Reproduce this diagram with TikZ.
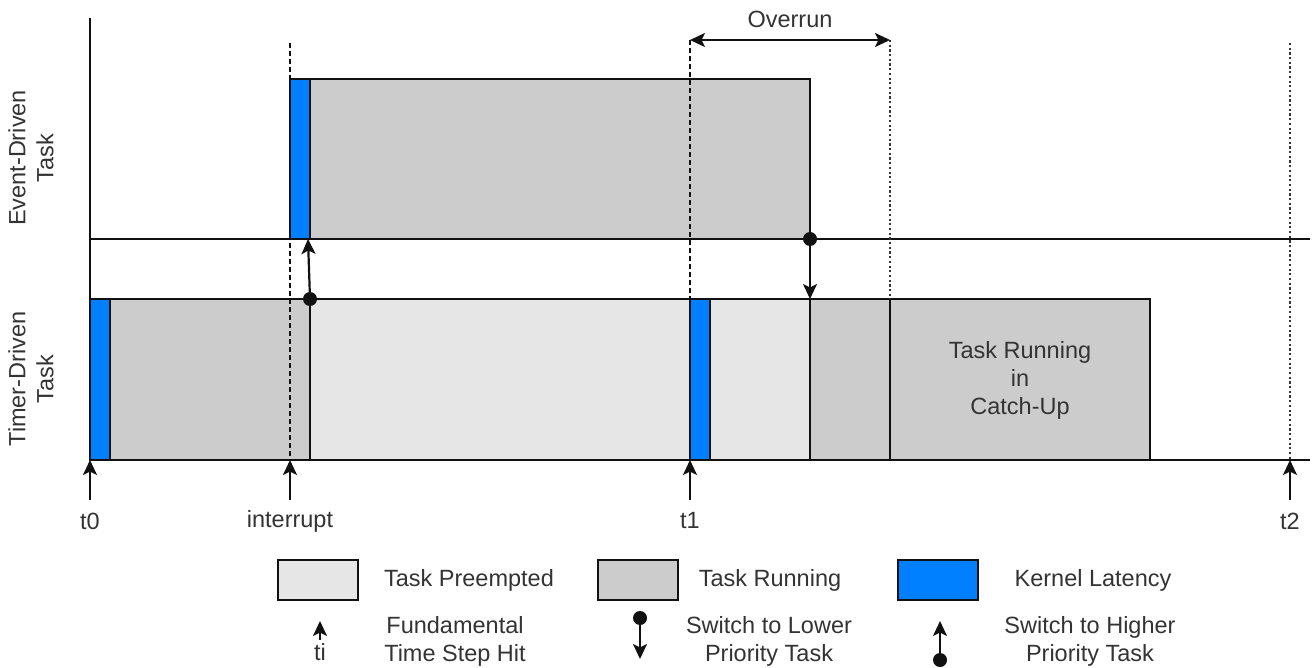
\documentclass[tikz,border=0pt]{standalone}
\usepackage{fontspec}
\setmainfont{Liberation Sans}
\usetikzlibrary{arrows.meta}
\definecolor{klblue}{HTML}{007FFF}
\definecolor{rungray}{HTML}{CCCCCC}
\definecolor{pregray}{HTML}{E6E6E6}
\definecolor{ink}{HTML}{111111}
\definecolor{txt}{HTML}{333333}
\tikzset{
  bx/.style={draw=ink, line width=2.2pt, inner sep=0pt, outer sep=0pt, rectangle},
  kl/.style={bx, fill=klblue},
  run/.style={bx, fill=rungray},
  pre/.style={bx, fill=pregray},
  lbl/.style={text=txt, align=center, inner sep=0pt, font=\fontsize{23.5}{28}\selectfont},
  ln/.style={draw=ink, line width=2.2pt},
  arr/.style={Stealth[length=15pt,width=14pt,inset=3.5pt]},
  tip/.style={ln, -{Stealth[length=15pt,width=14pt,inset=3.5pt]}},
  dtip/.style={ln, {Stealth[length=15pt,width=14pt,inset=3.5pt]}-{Stealth[length=15pt,width=14pt,inset=3.5pt]}},
  dashv/.style={draw=ink, line width=2pt, dash pattern=on 5pt off 3pt},
  dotv/.style={draw=ink!85, line width=2pt, dash pattern=on 2.2pt off 2.5pt},
  dot/.style={circle, fill=ink, inner sep=0pt, minimum size=14pt},
}
\begin{document}
\begin{tikzpicture}[x=1pt,y=-1pt]
\useasboundingbox (0,0) rectangle (1312,668);
% axis and lanes
\coordinate (axtop) at (90,18);
\coordinate (ax0) at (90,460);
\coordinate (laneE) at (90,239);
\coordinate (laneEend) at (1310,239);
\coordinate (laneTend) at (1310,460);
% dashed / dotted guides
\coordinate (gi1) at (290,43); \coordinate (gi2) at (290,460);
\coordinate (g11) at (690,40); \coordinate (g12) at (690,460);
\coordinate (g21) at (890,40); \coordinate (g22) at (890,299);
\coordinate (g31) at (1290,43); \coordinate (g32) at (1290,460);

% event-driven task
\node[kl, minimum width=20pt, minimum height=160pt] (eb) at (300,159) {};
\node[run, minimum width=500pt, minimum height=160pt] (er) at (560,159) {};
% timer-driven task
\node[kl, minimum width=20pt, minimum height=161pt] (tb1) at (100,379.5) {};
\node[run, minimum width=200pt, minimum height=161pt] (tr1) at (210,379.5) {};
\node[pre, minimum width=380pt, minimum height=161pt] (tp1) at (500,379.5) {};
\node[kl, minimum width=20pt, minimum height=161pt] (tb2) at (700,379.5) {};
\node[pre, minimum width=100pt, minimum height=161pt] (tp2) at (760,379.5) {};
\node[run, minimum width=80pt, minimum height=161pt] (tr2) at (850,379.5) {};
\node[run, minimum width=260pt, minimum height=161pt] (tr3) at (1020,379.5) {};
\node[lbl] (catch) at (1020,380) {Task Running\\in\\Catch-Up};

\draw[ln] (axtop) -- (ax0);
\draw[ln] (laneE) -- (laneEend);
\draw[ln] (ax0) -- (laneTend);

\draw[dashv] (gi1) -- (gi2);
\draw[dashv] (g11) -- (g12);
\draw[dotv] (g21) -- (g22);
\draw[dotv] (g31) -- (g32);

% overrun
\draw[dtip] (g11) -- (g21);
\node[lbl] (ovr) at (790,19) {Overrun};

% axis labels
\node[lbl, rotate=90] (evl) at (31,158) {Event-Driven\\Task};
\node[lbl, rotate=90] (tml) at (31,379) {Timer-Driven\\Task};

% time step arrows
\coordinate (a0) at (90,500);
\coordinate (ai) at (290,500);
\coordinate (a1) at (690,500);
\coordinate (a2) at (1290,500);
\draw[tip] (a0) -- (ax0);
\draw[tip] (ai) -- (gi2);
\draw[tip] (a1) -- (g12);
\draw[tip] (a2) -- (g32);
\node[lbl] (lt0) at (90,521) {t0};
\node[lbl] (lti) at (290,521) {interrupt};
\node[lbl] (lt1) at (690,521) {t1};
\node[lbl] (lt2) at (1290,521) {t2};

% switches
\node[dot] (sw1) at (tr1.north east) {};
\coordinate (sw1e) at ([xshift=-2pt]eb.south east);
\draw[tip] (sw1.center) -- (sw1e);
\node[dot] (sw2) at (er.south east) {};
\draw[tip] (sw2.center) -- (tr2.north west);

% legend
\node[pre, minimum width=80pt, minimum height=40pt] (lg1) at (318,580) {};
\node[run, minimum width=80pt, minimum height=40pt] (lg2) at (638,580) {};
\node[kl, minimum width=80pt, minimum height=40pt] (lg3) at (938,580) {};
\node[lbl] (lt1t) at (469,580) {Task Preempted};
\node[lbl] (lt2t) at (770,580) {Task Running};
\node[lbl] (lt3t) at (1093,580) {Kernel Latency};

\coordinate (lgaS) at (320,640);
\coordinate (lgaE) at (320,621);
\draw[tip] (lgaS) -- (lgaE);
\node[lbl, fill=white, inner sep=1pt] (lti2) at (320,652) {ti};
\node[lbl] (lfund) at (455,641) {Fundamental\\Time Step Hit};

\node[dot] (lgd1) at (640,618) {};
\coordinate (lgd1e) at (640,659);
\draw[tip] (lgd1.center) -- (lgd1e);
\node[lbl] (llow) at (769,641) {Switch to Lower\\Priority Task};

\node[dot] (lgd2) at (940,660) {};
\coordinate (lgd2e) at (940,621);
\draw[tip] (lgd2.center) -- (lgd2e);
\node[lbl] (lhigh) at (1090,641) {Switch to Higher\\Priority Task};
\end{tikzpicture}
\end{document}
